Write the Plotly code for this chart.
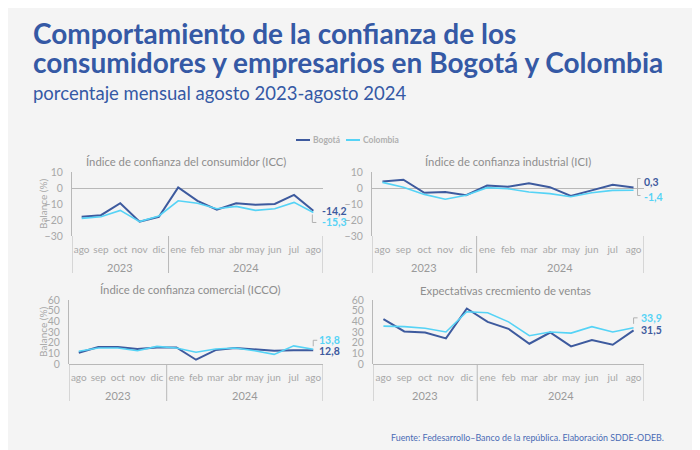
import plotly.graph_objects as go

months = ["ago", "sep", "oct", "nov", "dic", "ene", "feb", "mar", "abr", "may", "jun", "jul", "ago"]
years = ["2023"] * 5 + ["2024"] * 8

icc_bogota = [-18, -17, -9.5, -21, -18, 0.3, -8, -13.5, -9.5, -10.5, -10, -4.3, -14.2]
icc_colombia = [-19, -18, -14, -21, -17.5, -8, -9.5, -13, -11.5, -14, -13, -9, -15.3]

ici_bogota = [4, 5.2, -3, -2.5, -4.5, 1.5, 0.8, 3, 0.5, -5, -1.5, 2, 0.3]
ici_colombia = [3.5, 0.5, -4, -7, -4.5, 0.2, -0.5, -2.5, -3.5, -5.5, -3, -1.5, -1.4]

icco_bogota = [10.5, 16, 16, 14, 15.5, 15.5, 4, 13, 15, 14, 12.5, 13, 12.8]
icco_colombia = [12, 15, 15, 12.5, 16.5, 15, 11, 14, 15, 12.5, 9, 17, 13.8]

ventas_bogota = [42, 30.5, 29.5, 24, 52, 39.5, 33, 19, 29.5, 16.5, 22.5, 18, 31.5]
ventas_colombia = [35.5, 35, 33.5, 30, 49, 48, 39.5, 26.5, 30, 29, 35, 30, 33.9]

panel_titles = [
    "Índice de confianza del consumidor (ICC)",
    "Índice de confianza industrial (ICI)",
    "Índice de confianza comercial (ICCO)",
    "Expectativas crecmiento de ventas",
]

C_BOG = "#3d5a9e"
C_COL = "#55d3f6"
GRAY = "#a8a8a8"
LINE_GRAY = "#b8b8b8"
TITLE_BLUE = "#3559a5"
FONT = "Lato"

W, H = 700, 450
OFF = 8  # page offset of the plot inside the browser window


def px_x(p):
    return (p - OFF) / W


def px_y(p):
    return 1 - (p - OFF) / H


panels = [
    # bog, col, xdomain px, ydomain px (top,bottom), yrange, y title, title center,
    # end-label offsets (xshift, yshift Bogotá, yshift Colombia), connector (anchor series, svg path in px)
    (icc_bogota, icc_colombia, (72, 323), (172, 236), (-30, 10), True, (186, 161), (-3, 0, -10),
     ("col", "M-1,-2 V-10 H3")),
    (ici_bogota, ici_colombia, (372, 644), (172, 236), (-30, 10), False, (508, 161), (-2, 6, -7),
     ("bog", "M7,9 H4 V-8 H7")),
    (icco_bogota, icco_colombia, (69, 323), (300, 364), (0, 60), True, (190, 289), (-6, -1, 9),
     ("col", "M0,3 V9 H4")),
    (ventas_bogota, ventas_colombia, (373, 644), (300, 364), (0, 60), False, (505, 290), (-5, 0, 10),
     ("col", "M0,4 V10 H4")),
]

fig = go.Figure()
xidx = list(range(len(months)))

# year groups derived from the category list
year_names = []
year_bounds = [-0.5]
for k, yv in enumerate(years):
    if not year_names or year_names[-1] != yv:
        if year_names:
            year_bounds.append(k - 0.5)
        year_names.append(yv)
year_bounds.append(len(years) - 0.5)
year_centers = [(year_bounds[j] + year_bounds[j + 1]) / 2 for j in range(len(year_names))]

for i, (bog, col, xd, yd, yr, ytitle, tc, lab, conn) in enumerate(panels):
    n = "" if i == 0 else str(i + 1)
    xa, ya = "x" + n, "y" + n
    fig.add_trace(go.Scatter(x=xidx, y=bog, mode="lines", name="Bogotá",
                             line=dict(color=C_BOG, width=2), xaxis=xa, yaxis=ya,
                             showlegend=False))
    fig.add_trace(go.Scatter(x=xidx, y=col, mode="lines", name="Colombia",
                             line=dict(color=C_COL, width=1.6), xaxis=xa, yaxis=ya,
                             showlegend=False))
    fig.layout["xaxis" + n] = dict(
        domain=[px_x(xd[0]), px_x(xd[1])], anchor=ya, range=[-0.5, len(months) - 0.5],
        tickvals=xidx, ticktext=months, tickangle=0, automargin=False,
        showgrid=False, showline=False, zeroline=False,
        ticks="outside", ticklen=4, tickcolor="rgba(0,0,0,0)",
        tickfont=dict(family=FONT, size=10, color=GRAY),
    )
    fig.layout["yaxis" + n] = dict(
        domain=[px_y(yd[1]), px_y(yd[0])], anchor=xa, range=list(yr), dtick=10,
        showgrid=False, showline=True, linecolor=LINE_GRAY, linewidth=1, automargin=False,
        zeroline=True, zerolinecolor=LINE_GRAY, zerolinewidth=1,
        ticks="outside", ticklen=6, tickcolor="rgba(0,0,0,0)",
        tickfont=dict(family=FONT, size=10.5, color=GRAY),
    )
    if ytitle:
        fig.add_annotation(text="Balance (%)", x=px_x(43), y=px_y((yd[0] + yd[1]) / 2),
                           xref="paper", yref="paper", textangle=-90, showarrow=False,
                           xanchor="center", yanchor="middle",
                           font=dict(family=FONT, size=10, color=GRAY))
    # year labels
    ybase = yd[1]
    for name, cx in zip(year_names, year_centers):
        fig.add_annotation(text=name, x=cx, xref=xa, y=px_y(ybase + 31), yref="paper",
                           showarrow=False, xanchor="center", yanchor="middle",
                           font=dict(family=FONT, size=11, color="#9a9a9a"))
    # dividers
    for bx in year_bounds:
        fig.add_shape(type="line", xref=xa, yref="paper", x0=bx, x1=bx,
                      y0=px_y(ybase), y1=px_y(ybase + 37), line=dict(color=LINE_GRAY, width=1))
    # panel title
    fig.add_annotation(text=panel_titles[i], x=px_x(tc[0]), y=px_y(tc[1]), xref="paper", yref="paper",
                       xanchor="center", yanchor="middle",
                       showarrow=False, font=dict(family=FONT, size=11.3, color="#8e8e8e"))
    # end labels
    b_last, c_last = bog[-1], col[-1]
    fig.add_annotation(text="<b>" + f"{b_last:.1f}".replace(".", ",") + "</b>", xref=xa + " domain", yref=ya,
                       x=1, y=b_last, xanchor="left", yanchor="middle", xshift=lab[0], yshift=lab[1],
                       showarrow=False, font=dict(family=FONT, size=10.5, color=C_BOG))
    fig.add_annotation(text="<b>" + f"{c_last:.1f}".replace(".", ",") + "</b>", xref=xa + " domain", yref=ya,
                       x=1, y=c_last, xanchor="left", yanchor="middle", xshift=lab[0], yshift=lab[2],
                       showarrow=False, font=dict(family=FONT, size=10.5, color=C_COL))
    # small label connector
    fig.add_shape(type="path", xref=xa, yref=ya, xsizemode="pixel", ysizemode="pixel",
                  xanchor=xidx[-1], yanchor=(c_last if conn[0] == "col" else b_last),
                  path=conn[1], line=dict(color="#b0b0b0", width=1))

# legend
leg_items = [("Bogotá", C_BOG, 296), ("Colombia", C_COL, 346)]
for name, colr, lx in leg_items:
    fig.add_shape(type="line", xref="paper", yref="paper", x0=px_x(lx), x1=px_x(lx + 14),
                  y0=px_y(140), y1=px_y(140), line=dict(color=colr, width=2))
    fig.add_annotation(text="<b>" + name + "</b>", x=px_x(lx + 15), y=px_y(140), xref="paper", yref="paper",
                       xanchor="left", yanchor="middle", showarrow=False,
                       font=dict(family=FONT, size=8.5, color="#b0b0b0"))

title_lines = ["Comportamiento de la confianza de los",
               "consumidores y empresarios en Bogotá y Colombia"]
for line, ty in zip(title_lines, (33, 62)):
    fig.add_annotation(text="<b>" + line + "</b>", x=px_x(31), y=px_y(ty), xref="paper", yref="paper",
                       xanchor="left", yanchor="middle", showarrow=False,
                       font=dict(family=FONT, size=28, color=TITLE_BLUE))
fig.add_annotation(text="porcentaje mensual agosto 2023-agosto 2024",
                   x=px_x(31), y=px_y(93), xref="paper", yref="paper", xanchor="left", yanchor="middle",
                   showarrow=False, font=dict(family=FONT, size=18.5, color=TITLE_BLUE))
fig.add_annotation(text="Fuente: Fedesarrollo–Banco de la república. Elaboración SDDE-ODEB.",
                   x=px_x(666), y=px_y(437), xref="paper", yref="paper", xanchor="right", yanchor="middle",
                   showarrow=False, font=dict(family=FONT, size=8.9, color="#4a6bb5"))

fig.update_layout(
    width=W, height=H, margin=dict(l=0, r=0, t=0, b=0, pad=0, autoexpand=False),
    paper_bgcolor="#f4f4f4", plot_bgcolor="#f4f4f4",
    showlegend=False,
)

fig.write_html("out.html")
